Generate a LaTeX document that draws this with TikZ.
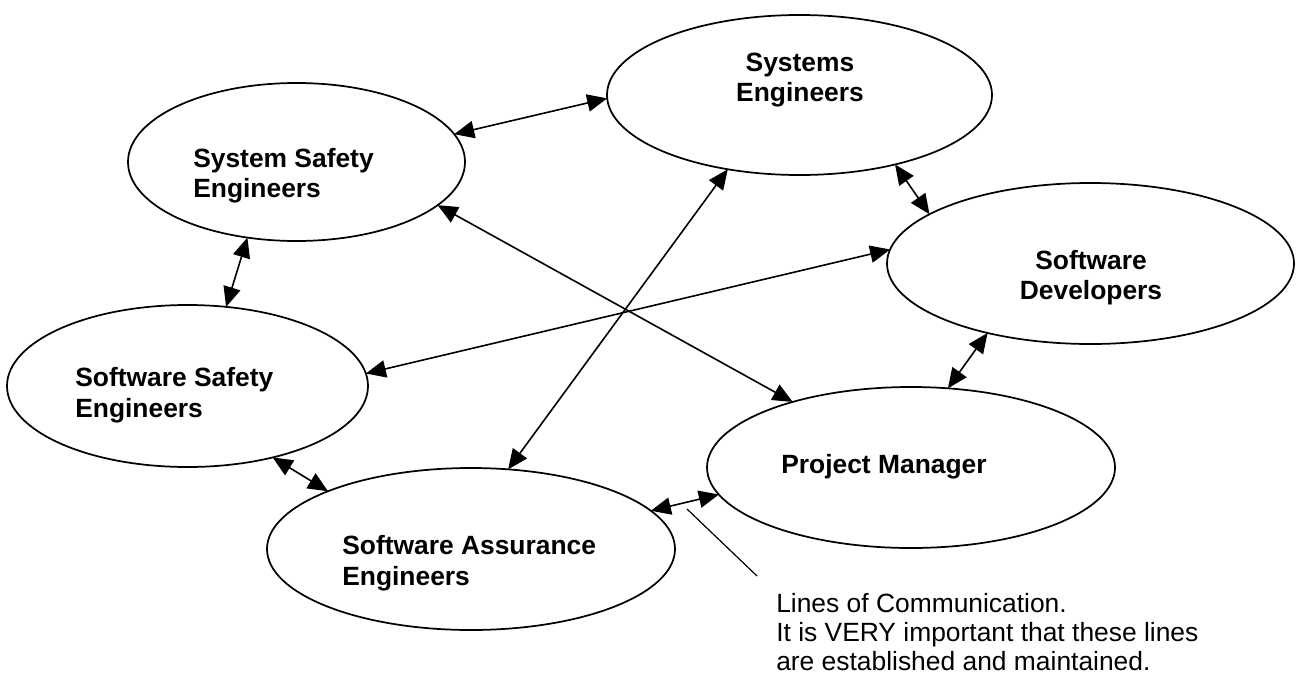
\documentclass[tikz,border=0pt]{standalone}
\usepackage{fontspec}
\setmainfont{Liberation Sans}
\usetikzlibrary{shapes.geometric,arrows.meta}
\tikzset{
  ell/.style={draw, ellipse, line width=1.3pt, inner sep=0pt, outer sep=0pt},
  lbl/.style={font=\bfseries\fontsize{19.8}{22}\selectfont, inner sep=0pt},
  note/.style={font=\fontsize{19.8}{22}\selectfont, inner sep=0pt, anchor=base west},
  link/.style={{Triangle[length=15pt,width=13pt]}-{Triangle[length=15pt,width=13pt]}, line width=1.2pt},
  pointer/.style={line width=0.9pt}
}
\begin{document}
\begin{tikzpicture}[x=0.75pt,y=-0.75pt]
\useasboundingbox (0,0) rectangle (1299,675);
% ellipses
\node[ell, minimum width=252.75pt, minimum height=118.5pt] (sse) at (296.5,162) {};
\node[ell, minimum width=288.75pt, minimum height=120pt] (se) at (799.5,95) {};
\node[ell, minimum width=305.25pt, minimum height=120.75pt] (sd) at (1090.5,263.5) {};
\node[ell, minimum width=270.75pt, minimum height=121.5pt] (sws) at (187.5,386) {};
\node[ell, minimum width=306pt, minimum height=120.75pt] (pm) at (911,467.5) {};
\node[ell, minimum width=306pt, minimum height=121.5pt] (sa) at (471,549) {};
% labels
\node[lbl, anchor=base west] (sseA) at (193,167) {System Safety};
\node[lbl, anchor=base west] (sseB) at (193,197) {Engineers};
\node[lbl, anchor=base] (seA) at (800,71) {Systems};
\node[lbl, anchor=base] (seB) at (800,101) {Engineers};
\node[lbl, anchor=base] (sdA) at (1091,269) {Software};
\node[lbl, anchor=base] (sdB) at (1091,299) {Developers};
\node[lbl, anchor=base west] (swsA) at (75,386) {Software Safety};
\node[lbl, anchor=base west] (swsB) at (75,417) {Engineers};
\node[lbl, anchor=base west] (pmA) at (781,473) {Project Manager};
\node[lbl, anchor=base west] (saA) at (342,554) {Software Assurance};
\node[lbl, anchor=base west] (saB) at (342,585) {Engineers};
% connectors
\draw[link] (sse.10.6) -- (se.181.5);
\draw[link] (sse.343.5) -- (pm.151.6);
\draw[link] (se.226.4) -- (sa.65.7);
\draw[link] (sws.4.4) -- (sd.176.8);
\draw[link] (se.324) -- (sd.163.4);
\draw[link] (sd.214.4) -- (pm.65.6);
\draw[link] (sse.237.9) -- (sws.64.9);
\draw[link] (sws.320.1) -- (sa.158);
\draw[link] (sa.12.3) -- (pm.188);
% annotation
\coordinate (ptrA) at (687,509);
\coordinate (ptrB) at (757,576);
\draw[pointer] (ptrA) -- (ptrB);
\node[note] (noteA) at (776,612) {Lines of Communication.};
\node[note] (noteB) at (776,641) {It is VERY important that these lines};
\node[note] (noteC) at (776,670) {are established and maintained.};
\end{tikzpicture}
\end{document}
